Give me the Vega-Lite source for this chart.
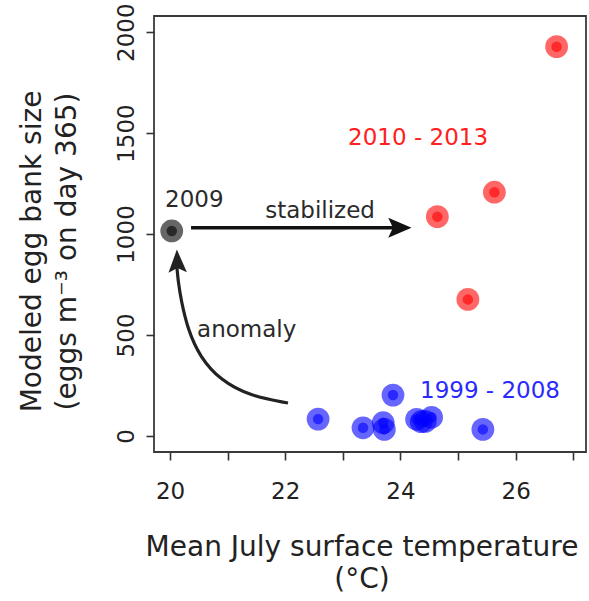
{
  "$schema": "https://vega.github.io/schema/vega-lite/v6.json",
  "autosize": {"type": "none"},
  "padding": {"left": 154, "top": 16, "right": 3, "bottom": 149},
  "width": 432,
  "height": 436,
  "background": "white",
  "config": {
    "font": "DejaVu Sans",
    "view": {"stroke": "#3a3a3a", "strokeWidth": 1.8}
  },
  "datasets": {
    "pts": [
      {"period": "1999 - 2008", "temp": 22.57, "eggs": 83},
      {"period": "1999 - 2008", "temp": 23.35, "eggs": 40},
      {"period": "1999 - 2008", "temp": 23.70, "eggs": 65},
      {"period": "1999 - 2008", "temp": 23.72, "eggs": 32},
      {"period": "1999 - 2008", "temp": 23.87, "eggs": 202},
      {"period": "1999 - 2008", "temp": 24.28, "eggs": 82},
      {"period": "1999 - 2008", "temp": 24.36, "eggs": 70},
      {"period": "1999 - 2008", "temp": 24.43, "eggs": 72},
      {"period": "1999 - 2008", "temp": 24.54, "eggs": 92},
      {"period": "1999 - 2008", "temp": 25.43, "eggs": 32},
      {"period": "2009", "temp": 20.03, "eggs": 1015},
      {"period": "2010 - 2013", "temp": 24.64, "eggs": 1086},
      {"period": "2010 - 2013", "temp": 25.17, "eggs": 676},
      {"period": "2010 - 2013", "temp": 25.63, "eggs": 1207},
      {"period": "2010 - 2013", "temp": 26.71, "eggs": 1928}
    ],
    "stab": [
      {"from": 20.365, "to": 23.95, "eggs": 1031}
    ],
    "stabHead": [
      {"temp": 23.99, "eggs": 1031}
    ],
    "curve": [
      {"step": 1, "temp": 22.048, "eggs": 163},
      {"step": 2, "temp": 21.388, "eggs": 197},
      {"step": 3, "temp": 20.868, "eggs": 277},
      {"step": 4, "temp": 20.520, "eggs": 391},
      {"step": 5, "temp": 20.312, "eggs": 524},
      {"step": 6, "temp": 20.191, "eggs": 673},
      {"step": 7, "temp": 20.139, "eggs": 772},
      {"step": 8, "temp": 20.121, "eggs": 832}
    ],
    "curveHead": [
      {"temp": 20.126, "eggs": 866}
    ],
    "notes": [
      {"label": "2009", "temp": 20.422, "eggs": 1135},
      {"label": "stabilized", "temp": 22.604, "eggs": 1078},
      {"label": "anomaly", "temp": 21.331, "eggs": 491}
    ],
    "redNote": [
      {"label": "2010 - 2013", "temp": 24.305, "eggs": 1441}
    ],
    "blueNote": [
      {"label": "1999 - 2008", "temp": 25.554, "eggs": 187}
    ]
  },
  "encoding": {
    "x": {
      "field": "temp", "type": "quantitative",
      "scale": {"domain": [19.722, 27.22], "nice": false, "zero": false},
      "axis": {
        "values": [20, 21, 22, 23, 24, 25, 26, 27],
        "labelExpr": "datum.value % 2 == 0 ? datum.label : ''",
        "domain": false, "grid": false,
        "tickSize": 8, "tickColor": "#333", "tickWidth": 1.6,
        "labelFontSize": 23, "labelColor": "#222",
        "labelBaseline": "alphabetic", "labelPadding": 38,
        "labelFlush": false, "labelOverlap": false,
        "title": ["Mean July surface temperature", "(°C)"],
        "titleFontSize": 28, "titleFontWeight": "normal", "titleColor": "#222",
        "titleX": 207.5, "titleY": 103, "titleBaseline": "alphabetic",
        "titleAlign": "center", "titleLineHeight": 32
      }
    },
    "y": {
      "field": "eggs", "type": "quantitative",
      "scale": {"domain": [-80, 2080], "nice": false, "zero": false},
      "axis": {
        "values": [0, 500, 1000, 1500, 2000],
        "format": "d",
        "domain": false, "grid": false,
        "tickSize": 8, "tickColor": "#333", "tickWidth": 1.6,
        "labelFontSize": 23, "labelColor": "#222",
        "labelAngle": 270, "labelAlign": "center", "labelBaseline": "alphabetic",
        "labelPadding": 13, "labelFlush": false, "labelOverlap": false,
        "title": ["Modeled egg bank size", "(eggs m⁻³ on day 365)"],
        "titleFontSize": 28, "titleFontWeight": "normal", "titleColor": "#222",
        "titleAngle": 270, "titleX": -114, "titleY": 235,
        "titleBaseline": "alphabetic", "titleAlign": "center", "titleLineHeight": 35
      }
    }
  },
  "layer": [
    {
      "data": {"name": "pts"},
      "mark": {"type": "circle", "size": 520, "opacity": 0.6},
      "encoding": {
        "color": {"field": "period", "type": "nominal",
          "scale": {"domain": ["1999 - 2008", "2009", "2010 - 2013"], "range": ["#0000ff", "#000000", "#ff0000"]},
          "legend": null}
      }
    },
    {
      "data": {"name": "pts"},
      "mark": {"type": "circle", "size": 110, "opacity": 0.6},
      "encoding": {
        "color": {"field": "period", "type": "nominal", "legend": null}
      }
    },
    {
      "data": {"name": "stab"},
      "mark": {"type": "rule", "color": "#111", "strokeWidth": 3.5},
      "encoding": {
        "x": {"field": "from", "type": "quantitative"},
        "x2": {"field": "to"},
        "y": {"field": "eggs", "type": "quantitative"}
      }
    },
    {
      "data": {"name": "stabHead"},
      "mark": {"type": "point", "filled": true, "opacity": 1, "color": "#111",
        "shape": "M1,0L-1,-0.85L-0.6,0L-1,0.85Z", "size": 543, "angle": 0}
    },
    {
      "data": {"name": "curve"},
      "mark": {"type": "line", "color": "#222", "strokeWidth": 3.2, "interpolate": "basis"},
      "encoding": {
        "order": {"field": "step", "type": "quantitative"}
      }
    },
    {
      "data": {"name": "curveHead"},
      "mark": {"type": "point", "filled": true, "opacity": 1, "color": "#222",
        "shape": "M1,0L-1,-0.8L-0.6,0L-1,0.8Z", "size": 530, "angle": 268}
    },
    {
      "data": {"name": "notes"},
      "mark": {"type": "text", "fontSize": 23, "color": "#2a2a2a", "align": "center", "baseline": "alphabetic"},
      "encoding": {"text": {"field": "label"}}
    },
    {
      "data": {"name": "redNote"},
      "mark": {"type": "text", "fontSize": 23, "color": "#ff2020", "align": "center", "baseline": "alphabetic"},
      "encoding": {"text": {"field": "label"}}
    },
    {
      "data": {"name": "blueNote"},
      "mark": {"type": "text", "fontSize": 23, "color": "#2a2aff", "align": "center", "baseline": "alphabetic"},
      "encoding": {"text": {"field": "label"}}
    }
  ]
}
